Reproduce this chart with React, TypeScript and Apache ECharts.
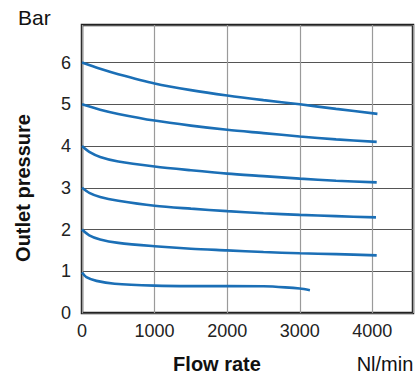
import React, { useEffect, useRef } from "react";
import * as echarts from "echarts";

const xTicks = [0, 1000, 2000, 3000, 4000];
const yTicks = [0, 1, 2, 3, 4, 5, 6];

const curve6: [number, number][] = [[0, 6], [250, 5.85], [500, 5.72], [1000, 5.5], [1500, 5.34], [2000, 5.21], [2500, 5.1], [3000, 5.0], [3500, 4.89], [4070, 4.77]];
const curve5: [number, number][] = [[0, 5], [250, 4.87], [500, 4.77], [1000, 4.61], [1500, 4.49], [2000, 4.39], [2500, 4.31], [3000, 4.23], [3500, 4.16], [4060, 4.1]];
const curve4: [number, number][] = [[0, 4], [100, 3.86], [250, 3.74], [500, 3.63], [1000, 3.51], [1500, 3.42], [2000, 3.34], [2500, 3.28], [3000, 3.22], [3500, 3.17], [4060, 3.13]];
const curve3: [number, number][] = [[0, 3], [100, 2.88], [250, 2.78], [500, 2.69], [1000, 2.57], [1500, 2.5], [2000, 2.44], [2500, 2.39], [3000, 2.35], [3500, 2.32], [4050, 2.29]];
const curve2: [number, number][] = [[0, 2], [100, 1.86], [250, 1.76], [500, 1.68], [1000, 1.6], [1500, 1.54], [2000, 1.5], [2500, 1.46], [3000, 1.43], [3500, 1.41], [4060, 1.38]];
const curve1: [number, number][] = [[0, 0.97], [60, 0.86], [200, 0.77], [450, 0.7], [1000, 0.655], [1500, 0.645], [2000, 0.645], [2500, 0.64], [2800, 0.615], [3000, 0.585], [3140, 0.545]];

const curves = [curve6, curve5, curve4, curve3, curve2, curve1];

const FONT = "'Liberation Sans', Arial, Helvetica, sans-serif";

export default function App() {
  const ref = useRef<HTMLDivElement>(null);
  useEffect(() => {
    document.body.style.margin = "0";
    const chart = echarts.init(ref.current!, undefined, { renderer: "svg" });
    chart.setOption({
      animation: false,
      backgroundColor: "#ffffff",
      grid: {
        left: 82,
        right: 6,
        top: 25,
        bottom: 63,
        show: true,
        borderColor: "#222222",
        borderWidth: 2.5,
        backgroundColor: "transparent",
      },
      xAxis: {
        type: "value",
        min: 0,
        max: 4560,
        interval: 1000,
        axisLine: { show: false },
        axisTick: { show: false },
        axisLabel: {
          showMaxLabel: false,
          fontSize: 18,
          color: "#222",
          fontFamily: FONT,
          margin: 9,
          formatter: (v: number) => (xTicks.includes(v) ? String(v) : ""),
        },
        splitLine: { show: true, lineStyle: { color: "#9a9a9a", width: 1.2 } },
      },
      yAxis: {
        type: "value",
        min: 0,
        max: 6.9,
        interval: 1,
        axisLine: { show: false },
        axisTick: { show: false },
        axisLabel: {
          showMaxLabel: false,
          fontSize: 18,
          color: "#222",
          fontFamily: FONT,
          margin: 11,
          formatter: (v: number) => (yTicks.includes(v) ? String(v) : ""),
        },
        splitLine: { show: true, lineStyle: { color: "#555555", width: 1.2 } },
      },
      graphic: [
        { type: "text", left: 18, top: 7, style: { text: "Bar", font: `21px ${FONT}`, fill: "#111" } },
        {
          type: "text",
          x: 23,
          y: 188,
          rotation: Math.PI / 2,
          style: {
            text: "Outlet pressure",
            font: `bold 20px ${FONT}`,
            fill: "#111",
            align: "center",
            verticalAlign: "middle",
          },
        },
        {
          type: "text",
          x: 217,
          y: 364,
          style: { text: "Flow rate", font: `bold 20px ${FONT}`, fill: "#111", align: "center", verticalAlign: "middle" },
        },
        {
          type: "text",
          x: 385,
          y: 364,
          style: { text: "Nl/min", font: `20px ${FONT}`, fill: "#111", align: "center", verticalAlign: "middle" },
        },
      ],
      series: curves.map((c) => ({
        type: "line",
        data: c,
        smooth: 0.3,
        showSymbol: false,
        lineStyle: { color: "#1b6fb6", width: 2.6 },
        z: 3,
      })),
    });
    return () => chart.dispose();
  }, []);
  return <div ref={ref} style={{ width: 419, height: 376 }} />;
}
